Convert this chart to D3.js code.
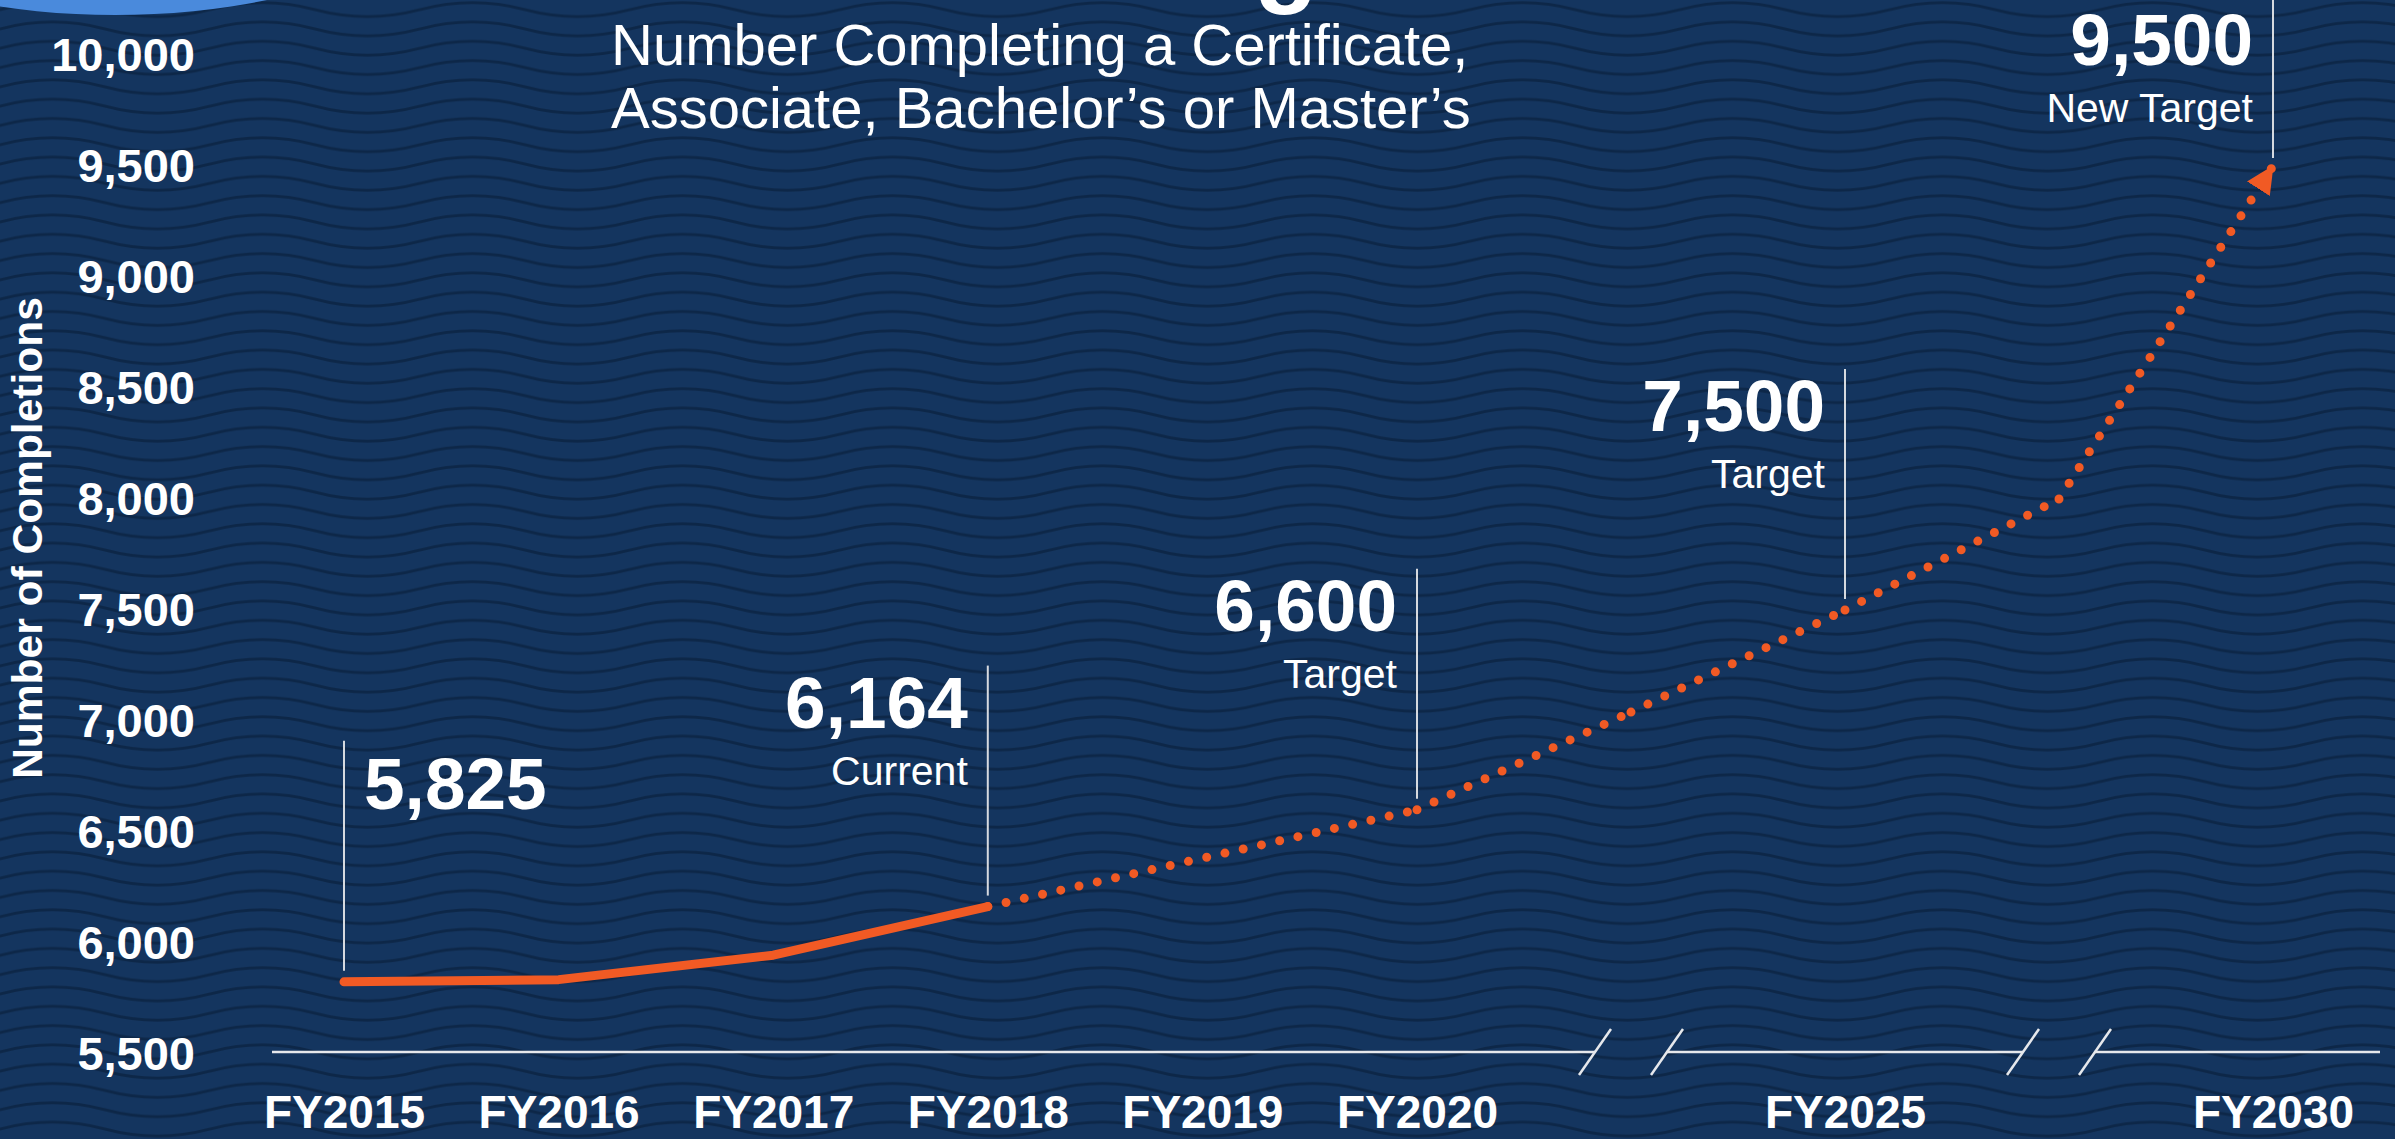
<!DOCTYPE html>
<html>
<head>
<meta charset="utf-8">
<script src="https://cdn.jsdelivr.net/npm/d3@7"></script>
<style>
  html, body { margin: 0; padding: 0; overflow: hidden; background: #14355f; }
  svg { display: block; }
</style>
</head>
<body>
<div id="chart"></div>
<script>
// =========================
// DATA
// =========================
const years = [2015, 2016, 2017, 2018];
const completions = [5825, 5835, 5945, 6164];

// projection, drawn dotted (one piece per pair of points)
const projYears = [2018, 2020, 2022.5, 2025, 2027.5, 2030];
const projValues = [6164, 6600, 7040, 7500, 8000, 9500];

const tickYears = [2015, 2016, 2017, 2018, 2019, 2020, 2025, 2030];
const yTicks = [5500, 6000, 6500, 7000, 7500, 8000, 8500, 9000, 9500, 10000];
const breakYears = [2022.5, 2027.5];

const annoYears = [2015, 2018, 2020, 2025, 2030];
const annoValues = [5825, 6164, 6600, 7500, 9500];
const annoNotes = ["", "Current", "Target", "Target", "New Target"];

const titleLines = ["Number Completing a Certificate,", "Associate, Bachelor\u2019s or Master\u2019s"];

// =========================
// SETUP
// =========================
const width = 2395, height = 1139;
const bg = "#14355f";
const orange = "#f15a24";
const font = "'Liberation Sans', Arial, sans-serif";

const svg = d3.select("#chart")
    .append("svg")
    .attr("width", width)
    .attr("height", height);

const defs = svg.append("defs");

// wavy background pattern
const waveW = 210, waveH = 19.3, amp = 9.3;
const pattern = defs.append("pattern")
    .attr("id", "waves")
    .attr("patternUnits", "userSpaceOnUse")
    .attr("width", waveW)
    .attr("height", waveH);

pattern.append("rect")
    .attr("width", waveW)
    .attr("height", waveH)
    .attr("fill", bg);

const c = waveH / 2;
let wave = `M${-waveW},${c}`;
for (let k = -1; k < 2; k++) {
    const x0 = k * waveW;
    wave += ` C${x0 + 35},${c - amp} ${x0 + 70},${c - amp} ${x0 + 105},${c}`;
    wave += ` C${x0 + 140},${c + amp} ${x0 + 175},${c + amp} ${x0 + 210},${c}`;
}
pattern.append("path")
    .attr("d", wave)
    .attr("fill", "none")
    .attr("stroke", "#0c2646")
    .attr("stroke-opacity", 0.9)
    .attr("stroke-width", 2.8);

defs.append("marker")
    .attr("id", "arrow")
    .attr("viewBox", "0 -14 28 28")
    .attr("refX", 27)
    .attr("refY", 0)
    .attr("markerWidth", 28)
    .attr("markerHeight", 28)
    .attr("markerUnits", "userSpaceOnUse")
    .attr("orient", "auto")
    .append("path")
    .attr("d", "M0,-13.5L28,0L0,13.5Z")
    .attr("fill", orange);

svg.append("rect")
    .attr("width", width)
    .attr("height", height)
    .attr("fill", "url(#waves)");

// light blue badge peeking in at the top left
svg.append("ellipse")
    .attr("cx", 115)
    .attr("cy", -185)
    .attr("rx", 400)
    .attr("ry", 200)
    .attr("fill", "#4a8adc");

// big heading, only the tail of the g is on screen
svg.append("text")
    .attr("x", 1254)
    .attr("y", -7)
    .style("font-family", font)
    .style("font-weight", "bold")
    .style("font-size", "105px")
    .attr("fill", "#fff")
    .text("g");

// =========================
// SCALES
// =========================
const x = d3.scaleLinear()
    .domain([2015, 2020, 2025, 2030])
    .range([344, 1417, 1845, 2273]);

const y = d3.scaleLinear()
    .domain([5500, 10000])
    .range([1054, 55]);

// =========================
// TITLE
// =========================
svg.append("text")
    .attr("x", 611)
    .attr("y", 65)
    .attr("fill", "#fff")
    .style("font-family", font)
    .style("font-size", "58px")
    .selectAll("tspan")
    .data(titleLines)
    .join("tspan")
    .attr("x", 611)
    .attr("dy", (d, i) => i === 0 ? 0 : 63)
    .text(d => d);

// =========================
// AXES
// =========================
const yAxis = svg.append("g")
    .attr("transform", "translate(195,0)")
    .call(d3.axisLeft(y).tickValues(yTicks).tickFormat(d3.format(",")).tickSize(0).tickPadding(0));
yAxis.select(".domain").remove();
yAxis.selectAll("text")
    .attr("fill", "#fff")
    .style("font-family", font)
    .style("font-weight", "bold")
    .style("font-size", "47px");

svg.append("text")
    .attr("transform", "translate(42,538) rotate(-90)")
    .attr("text-anchor", "middle")
    .attr("fill", "#fff")
    .style("font-family", font)
    .style("font-weight", "bold")
    .style("font-size", "42.5px")
    .text("Number of Completions");

const axisY = 1052;
const xAxis = svg.append("g")
    .attr("transform", `translate(0,${axisY})`)
    .call(d3.axisBottom(x).tickValues(tickYears).tickFormat(d => "FY" + d).tickSize(0));
xAxis.select(".domain").remove();
xAxis.selectAll("text")
    .attr("y", 1128 - axisY)
    .attr("dy", 0)
    .attr("fill", "#fff")
    .style("font-family", font)
    .style("font-weight", "bold")
    .style("font-size", "46px");

// broken axis line
const gap = 36;
const cuts = breakYears.map(b => x(b));
const segs = [[272, cuts[0] - gap], [cuts[0] + gap, cuts[1] - gap], [cuts[1] + gap, 2380]];
xAxis.selectAll("line.seg")
    .data(segs)
    .join("line")
    .attr("class", "seg")
    .attr("x1", d => d[0])
    .attr("x2", d => d[1])
    .attr("stroke", "#e6e8ec")
    .attr("stroke-width", 2.5);

xAxis.selectAll("line.slash")
    .data(cuts.flatMap(cx => [cx - gap, cx + gap]))
    .join("line")
    .attr("class", "slash")
    .attr("x1", d => d - 16)
    .attr("y1", 23)
    .attr("x2", d => d + 16)
    .attr("y2", -23)
    .attr("stroke", "#e6e8ec")
    .attr("stroke-width", 2.5);

// =========================
// ANNOTATION LINES + LABELS
// =========================
const anno = annoYears.map((yr, i) => ({ yr, v: annoValues[i], note: annoNotes[i], i }));
const annoG = svg.append("g");

anno.forEach(d => {
    const lx = x(d.yr);
    const bottom = y(d.v) - (d.i === anno.length - 1 ? 8 : 11);
    const top = bottom - 230;
    annoG.append("line")
        .attr("x1", lx).attr("x2", lx)
        .attr("y1", top).attr("y2", bottom)
        .attr("stroke", "#d5d9df")
        .attr("stroke-width", 2);

    const first = d.i === 0;
    const tx = first ? lx + 20 : lx - 20;
    const base = Math.max(top + 62, 65);
    annoG.append("text")
        .attr("x", tx)
        .attr("y", first ? base + 6 : base)
        .attr("text-anchor", first ? "start" : "end")
        .attr("fill", "#fff")
        .style("font-family", font)
        .style("font-weight", "bold")
        .style("font-size", "73px")
        .text(d3.format(",")(d.v));

    if (d.note) {
        annoG.append("text")
            .attr("x", tx)
            .attr("y", base + 57)
            .attr("text-anchor", "end")
            .attr("fill", "#fff")
            .style("font-family", font)
            .style("font-size", "41px")
            .text(d.note);
    }
});

// =========================
// LINES
// =========================
const line = d3.line()
    .x(d => x(d[0]))
    .y(d => y(d[1]));

const proj = projYears.map((yr, i) => [yr, projValues[i]]);
const pieces = d3.pairs(proj);

svg.append("g")
    .selectAll("path")
    .data(pieces)
    .join("path")
    .attr("d", line)
    .attr("fill", "none")
    .attr("stroke", orange)
    .attr("stroke-width", 9)
    .attr("stroke-linecap", "round")
    .attr("stroke-dasharray", "0 18.7")
    .attr("marker-end", (d, i) => i === pieces.length - 1 ? "url(#arrow)" : null);

svg.append("path")
    .datum(years.map((yr, i) => [yr, completions[i]]))
    .attr("d", line)
    .attr("fill", "none")
    .attr("stroke", orange)
    .attr("stroke-width", 9)
    .attr("stroke-linecap", "round")
    .attr("stroke-linejoin", "round");
</script>
</body>
</html>
